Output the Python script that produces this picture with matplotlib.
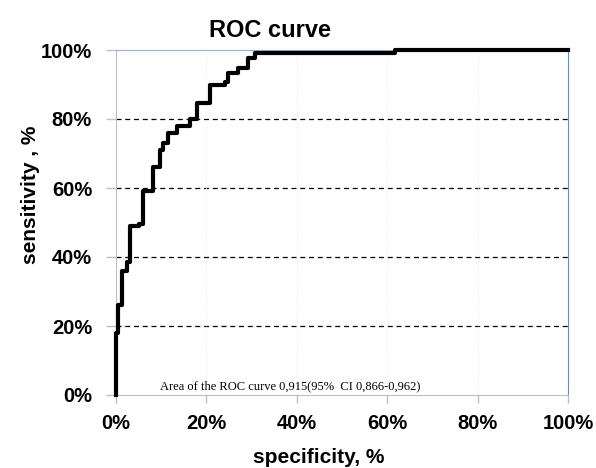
import matplotlib
matplotlib.use("Agg")
import matplotlib.pyplot as plt
from matplotlib.ticker import PercentFormatter

# ROC curve (percent)
fpr = [0, 0, 0.5, 1.3, 2.4, 3.1, 5.1, 6.0, 8.2, 9.7, 10.4, 11.5, 13.5, 16.4,
       17.9, 20.8, 24.1, 24.8, 27.0, 29.2, 30.8, 61.7, 100]
tpr = [0, 18, 26, 36, 38.5, 49, 49.5, 59, 66, 71, 73, 76, 78, 80,
       84.6, 90, 90.7, 93.3, 94.8, 97.7, 99, 100, 100]
ticks = [0, 20, 40, 60, 80, 100]
note = "Area of the ROC curve 0,915(95%  CI 0,866-0,962)"

plt.rcParams["font.family"] = "Liberation Sans"

fig = plt.figure(figsize=(5.96, 4.68), dpi=100)
ax = fig.add_axes([116 / 596, 73 / 468, 452 / 596, 345 / 468])

ax.plot(fpr, tpr, drawstyle="steps-post", color="black", lw=3,
        clip_on=False, zorder=5)

ax.set_xlim(0, 100)
ax.set_ylim(0, 100)
ax.set_xticks(ticks)
ax.set_yticks(ticks)
ax.xaxis.set_major_formatter(PercentFormatter(decimals=0))
ax.yaxis.set_major_formatter(PercentFormatter(decimals=0))
for lab in ax.get_xticklabels() + ax.get_yticklabels():
    lab.set_fontweight("bold")
    lab.set_fontsize(14.5)
ax.tick_params(axis="x", color="#bfbfbf", length=5.8, width=1, pad=8)
ax.tick_params(axis="y", color="#bfbfbf", length=7.2, width=1, pad=10)

for y in ticks[1:-1]:
    ax.axhline(y, color="black", lw=0.9, ls=(0, (4, 3)), zorder=1)
for x in ticks[1:-1]:
    ax.axvline(x, color="#eeeeee", lw=0.8, ls=":", zorder=1)

ax.spines["left"].set_color("#bfbfbf")
ax.spines["bottom"].set_color("#bfbfbf")
ax.spines["top"].set_color("#8db3e2")
ax.spines["right"].set_color("#5b8fd6")

fig.text(270 / 596, 1 - 36.7 / 468, "ROC curve", ha="center", va="baseline",
         fontsize=17, fontweight="bold")
fig.text(319 / 596, 1 - 463 / 468, "specificity, %", ha="center", va="baseline",
         fontsize=15, fontweight="bold")
fig.text(31 / 596, 1 - 195 / 468, "sensitivity , %", ha="center", va="center",
         rotation=90, fontsize=15, fontweight="bold")
fig.text(290 / 596, 1 - 386 / 468, note, ha="center", va="center",
         fontsize=9, family="Liberation Serif")

fig.savefig("out.png", dpi=100)
